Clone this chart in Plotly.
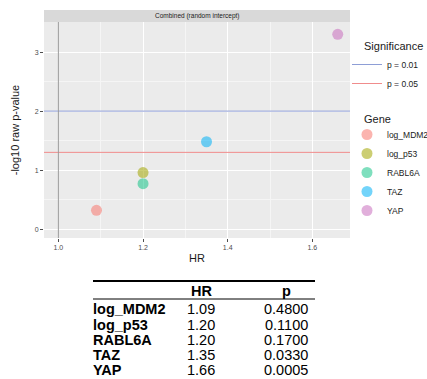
import plotly.graph_objects as go

W, H = 427, 379

genes = ["log_MDM2", "log_p53", "RABL6A", "TAZ", "YAP"]
hr = [1.09, 1.20, 1.20, 1.35, 1.66]
hr_txt = ["1.09", "1.20", "1.20", "1.35", "1.66"]
pval = [0.4800, 0.1100, 0.1700, 0.0330, 0.0005]
p_txt = ["0.4800", "0.1100", "0.1700", "0.0330", "0.0005"]
neglogp = [0.319, 0.959, 0.770, 1.481, 3.301]
gene_colors = ["rgba(248,118,109,0.55)", "rgba(163,165,0,0.55)", "rgba(0,191,125,0.5)",
               "rgba(0,176,246,0.55)", "rgba(200,110,190,0.55)"]

sig_labels = ["p = 0.01", "p = 0.05"]
sig_levels = [2.0, 1.30103]
sig_colors = ["#8E9ED6", "#F08C8C"]

x_range = [0.966, 1.689]
y_range = [-0.15, 3.51]

def px_x(p):
    return p / W

def px_y(p):
    return 1 - p / H

FONT = "Liberation Sans, Arial, sans-serif"

fig = go.Figure()

for lab, lev, col in zip(sig_labels, sig_levels, sig_colors):
    fig.add_trace(go.Scatter(x=x_range, y=[lev, lev], mode="lines",
                             line=dict(color=col, width=1), name=lab,
                             legend="legend", hoverinfo="skip"))

fig.add_trace(go.Scatter(x=[1.0, 1.0], y=y_range, mode="lines",
                         line=dict(color="#9a9a9a", width=1), showlegend=False,
                         hoverinfo="skip"))

for g, x, y, c in zip(genes, hr, neglogp, gene_colors):
    fig.add_trace(go.Scatter(x=[x], y=[y], mode="markers", name=g,
                             marker=dict(color=c, size=11, line=dict(width=0)),
                             legend="legend2"))

panel_l, panel_r, panel_t, panel_b = 44, 350, 22, 238

fig.update_layout(
    width=W, height=H, margin=dict(l=0, r=0, t=0, b=0, autoexpand=False),
    paper_bgcolor="white", plot_bgcolor="#EBEBEB",
    font=dict(family=FONT, color="#1a1a1a"),
    xaxis=dict(domain=[px_x(panel_l), px_x(panel_r)], range=x_range, automargin=False,
               tickvals=[1.0, 1.2, 1.4, 1.6], ticktext=["1.0", "1.2", "1.4", "1.6"],
               showgrid=True, gridcolor="white", gridwidth=1,
               minor=dict(tickvals=[1.1, 1.3, 1.5], showgrid=True, gridcolor="#F5F5F5", gridwidth=0.6, ticks=""),
               ticks="outside", ticklen=3, tickcolor="#4d4d4d", tickwidth=0.6,
               tickfont=dict(size=7, color="#4d4d4d"), zeroline=False, showline=False,
               title=dict(text="HR", font=dict(size=11, color="#1a1a1a"), standoff=3)),
    yaxis=dict(domain=[px_y(panel_b), px_y(panel_t)], range=y_range, automargin=False,
               tickvals=[0, 1, 2, 3], ticktext=["0", "1", "2", "3"],
               showgrid=True, gridcolor="white", gridwidth=1,
               minor=dict(tickvals=[0.5, 1.5, 2.5, 3.5], showgrid=True, gridcolor="#F5F5F5", gridwidth=0.6, ticks=""),
               ticks="outside", ticklen=3, tickcolor="#4d4d4d", tickwidth=0.6,
               tickfont=dict(size=7, color="#4d4d4d"), zeroline=False, showline=False,
               title=dict(text="-log10 raw p-value", font=dict(size=11, color="#1a1a1a"), standoff=12)),
    legend=dict(x=px_x(347), y=px_y(50), xanchor="left", yanchor="top",
                font=dict(size=8.5), bgcolor="rgba(0,0,0,0)", itemwidth=30,
                tracegroupgap=0),
    legend2=dict(x=px_x(347), y=px_y(120), xanchor="left", yanchor="top",
                 font=dict(size=8.5), bgcolor="rgba(0,0,0,0)", itemwidth=30,
                 tracegroupgap=0),
    showlegend=True,
)

shapes = []
shapes.append(dict(type="rect", xref="paper", yref="paper",
                   x0=px_x(panel_l), x1=px_x(panel_r), y0=px_y(22), y1=px_y(10),
                   fillcolor="#D9D9D9", line=dict(width=0), layer="below"))
annotations = [dict(text="Combined (random intercept)", xref="paper", yref="paper",
                    x=px_x((panel_l + panel_r) / 2), y=px_y(16), showarrow=False,
                    font=dict(size=6.5, color="#1a1a1a"), xanchor="center", yanchor="middle")]

# legend titles
annotations.append(dict(text="Significance", xref="paper", yref="paper", x=px_x(362), y=px_y(46),
                        showarrow=False, xanchor="left", yanchor="middle",
                        font=dict(size=11, color="#1a1a1a")))
annotations.append(dict(text="Gene", xref="paper", yref="paper", x=px_x(362), y=px_y(119),
                        showarrow=False, xanchor="left", yanchor="middle",
                        font=dict(size=11, color="#1a1a1a")))

tbl_l, tbl_r = 93, 315
shapes.append(dict(type="line", xref="paper", yref="paper", x0=px_x(tbl_l), x1=px_x(tbl_r),
                   y0=px_y(281), y1=px_y(281), line=dict(color="black", width=2)))
shapes.append(dict(type="line", xref="paper", yref="paper", x0=px_x(tbl_l), x1=px_x(tbl_r),
                   y0=px_y(299), y1=px_y(299), line=dict(color="black", width=1)))
col_hr, col_p = 201, 286
hdr_y = 290.5
TFS = 14.5
annotations.append(dict(text="<b>HR</b>", xref="paper", yref="paper", x=px_x(col_hr), y=px_y(hdr_y),
                        showarrow=False, xanchor="center", yanchor="middle",
                        font=dict(size=TFS, color="black")))
annotations.append(dict(text="<b>p</b>", xref="paper", yref="paper", x=px_x(col_p), y=px_y(hdr_y),
                        showarrow=False, xanchor="center", yanchor="middle",
                        font=dict(size=TFS, color="black")))
row_y0, row_dy = 309.3, 15.2
for i, (g, h, p) in enumerate(zip(genes, hr_txt, p_txt)):
    yy = px_y(row_y0 + i * row_dy)
    annotations.append(dict(text=f"<b>{g}</b>", xref="paper", yref="paper", x=px_x(tbl_l - 2), y=yy,
                            showarrow=False, xanchor="left", yanchor="middle",
                            font=dict(size=TFS, color="black")))
    annotations.append(dict(text=h, xref="paper", yref="paper", x=px_x(col_hr), y=yy,
                            showarrow=False, xanchor="center", yanchor="middle",
                            font=dict(size=TFS, color="black")))
    annotations.append(dict(text=p, xref="paper", yref="paper", x=px_x(col_p), y=yy,
                            showarrow=False, xanchor="center", yanchor="middle",
                            font=dict(size=TFS, color="black")))

fig.update_layout(shapes=shapes, annotations=annotations)
fig.write_html("out.html")
